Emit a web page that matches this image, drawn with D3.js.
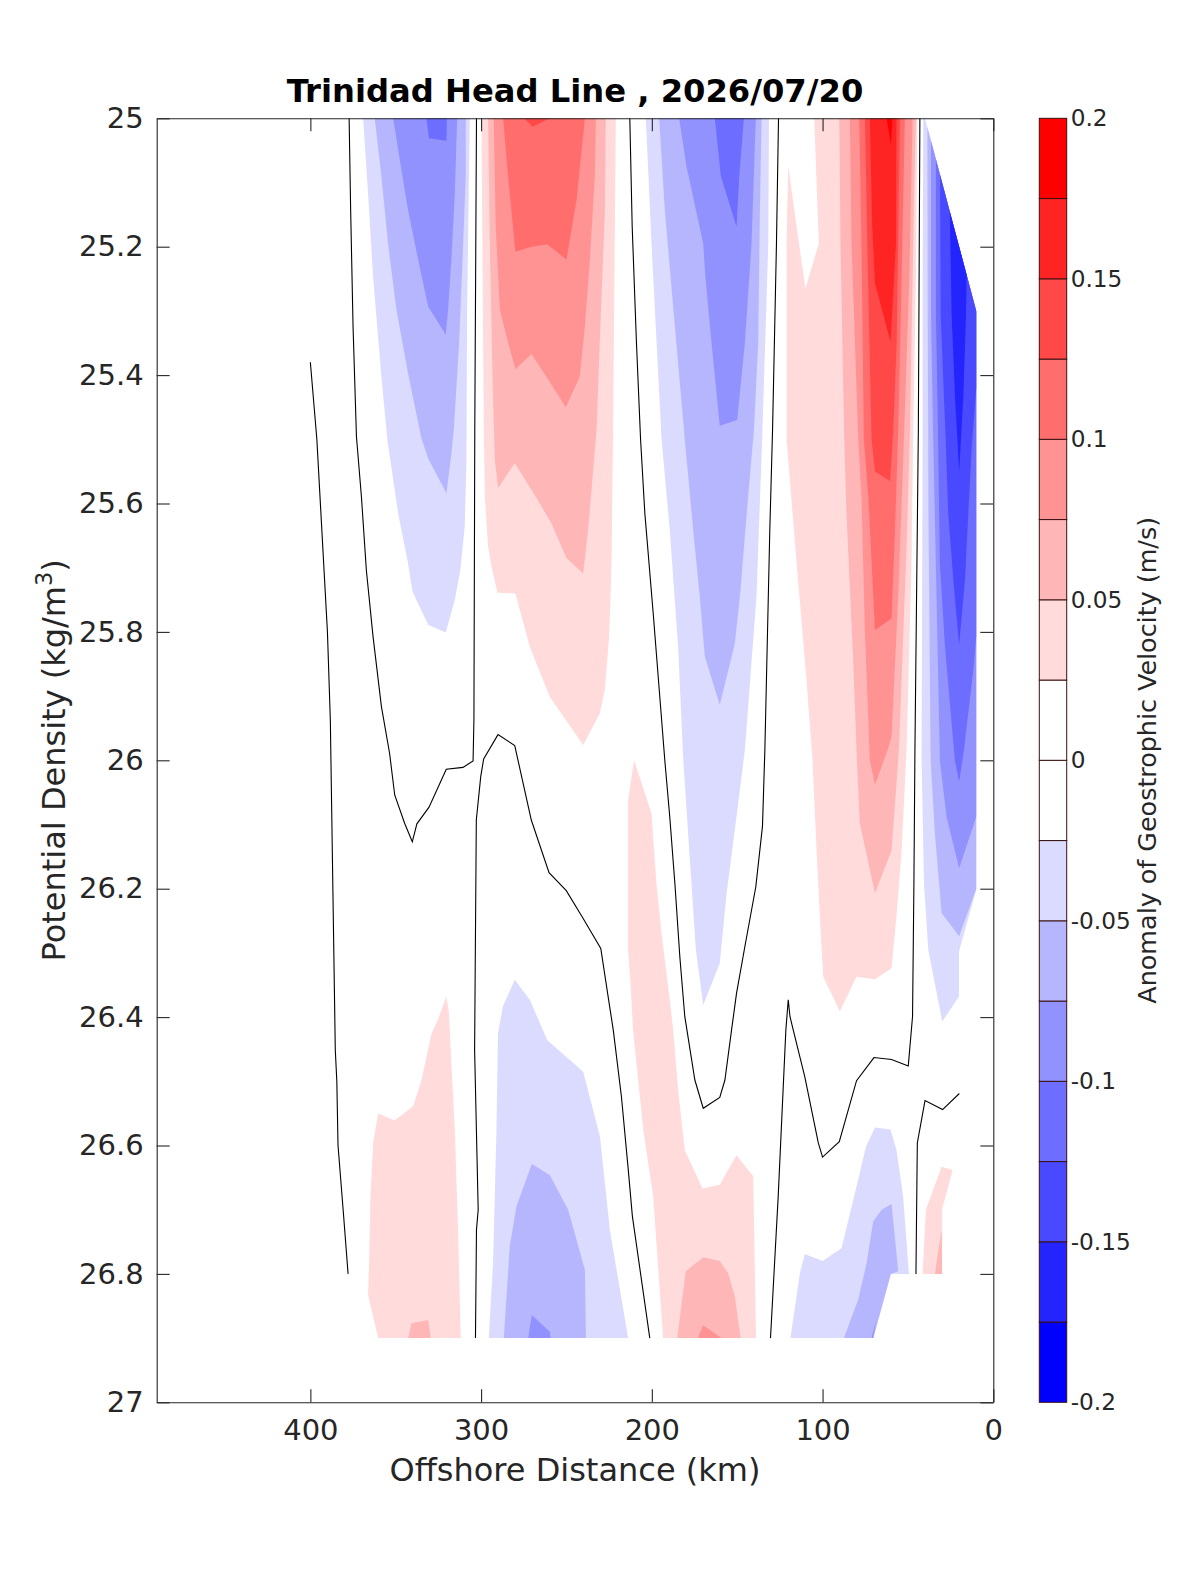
<!DOCTYPE html>
<html>
<head>
<meta charset="utf-8">
<title>Trinidad Head Line</title>
<script src="https://cdnjs.cloudflare.com/ajax/libs/d3/7.8.5/d3.min.js"></script>
<style>
  html, body { margin: 0; padding: 0; background: #fff; }
  text { font-family: "DejaVu Sans", sans-serif; fill: #262626; }
</style>
</head>
<body>
<div id="chart"></div>
<script>
// axis ticks and colour levels
const distanceTicks = [400, 300, 200, 100, 0];
const densityTicks = [25, 25.2, 25.4, 25.6, 25.8, 26, 26.2, 26.4, 26.6, 26.8, 27];
const colorTicks = [-0.2, -0.15, -0.1, -0.05, 0, 0.05, 0.1, 0.15, 0.2];
const colorLevels = [-0.2, -0.175, -0.15, -0.125, -0.1, -0.075, -0.05, -0.025, 0,
  0.025, 0.05, 0.075, 0.1, 0.125, 0.15, 0.175, 0.2];

// filled contours, as [km offshore, density]
// offshore blue lobe, 370-305 km
const blueA1 = [[369.1,25],[366.2,25.117],[363.3,25.246],[358.4,25.402],[354.9,25.501],[348.6,25.615],[342.8,25.693],[340.2,25.737],[331,25.789],[320.7,25.801],[315.4,25.75],[312.1,25.703],[309.6,25.636],[308.6,25.537],[308.2,25.3],[306.6,25]];
const blueA2 = [[362.3,25],[358.4,25.09],[354.5,25.195],[349.6,25.298],[342.8,25.397],[335,25.498],[331,25.53],[320.3,25.584],[317.4,25.522],[316,25.486],[312.9,25.35],[310.5,25.195],[309,25.09],[309,25]];
const blueA3 = [[351.5,25],[347.6,25.065],[342.8,25.143],[336.9,25.22],[331,25.293],[320.7,25.337],[319.3,25.298],[317.4,25.22],[315.4,25.117],[314,25]];
const blueA4 = [[332,25],[330.5,25.031],[320.3,25.035],[320,25]];

// red lobe, 300-220 km
const redB1 = [[299.8,25],[298.8,25.35],[298.4,25.486],[297.8,25.589],[295.9,25.667],[293.9,25.698],[290.4,25.739],[279.9,25.74],[271.5,25.823],[259.8,25.901],[240.2,25.976],[230.5,25.927],[227.5,25.89],[225,25.807],[223.6,25.693],[222.7,25.486],[221.1,25]];
const redB2 = [[295.9,25],[294.9,25.195],[293.3,25.402],[292,25.532],[290,25.576],[280.3,25.537],[265.6,25.6],[258.8,25.631],[250,25.685],[240.2,25.709],[237.3,25.641],[232.4,25.486],[230.5,25.35],[227.5,25.143],[227,25]];
const redB3 = [[292.6,25],[291.4,25.169],[289,25.298],[285.1,25.34],[279.9,25.391],[270.5,25.367],[260.7,25.407],[250.4,25.45],[242.2,25.402],[239.2,25.324],[236.3,25.22],[233.4,25.09],[232.8,25]];
const redB4 = [[287.1,25],[284.2,25.09],[279.9,25.208],[270.5,25.2],[261.3,25.196],[250,25.22],[244.1,25.127],[239.2,25]];
const redB5 = [[274.8,25],[269.9,25.013],[259.8,25]];

// blue lobe, 205-130 km
const blueC1 = [[203.5,25],[200.2,25.195],[194.3,25.5],[189.5,25.641],[184.6,25.823],[181.6,25.999],[176.8,26.192],[174.2,26.295],[169.9,26.381],[160.2,26.316],[156.2,26.207],[150.4,26.088],[145.5,25.984],[138.7,25.745],[135.2,25.486],[131.8,25.195],[131.4,25]];
const blueC2 = [[195.7,25],[192.4,25.143],[186.5,25.324],[180.7,25.5],[175.8,25.641],[171.9,25.745],[169,25.838],[160.2,25.914],[151.4,25.818],[148.4,25.745],[143.6,25.589],[140.2,25.486],[137.7,25.35],[136.7,25.143],[135.7,25]];
const blueC3 = [[184,25],[179.7,25.075],[169.9,25.195],[168.8,25.241],[166,25.324],[160.2,25.479],[150,25.47],[145.5,25.35],[141.6,25.195],[139.1,25]];
const blueC4 = [[163.1,25],[159.6,25.09],[150.4,25.169],[148.8,25.09],[146.1,25]];

// nearshore red jet, 120-45 km
const redD1 = [[104.9,25],[102.2,25.195],[110,25.265],[115.2,25.169],[120.1,25.075],[121.1,25.195],[121.1,25.5],[115.2,25.693],[109.4,25.875],[105.9,26],[103.5,26.14],[101.6,26.243],[99.6,26.337],[89.9,26.391],[80.1,26.337],[69.3,26.341],[59.6,26.324],[56.7,26.243],[53.7,26.14],[50.8,25.984],[47.9,25.693],[46.9,25.486],[45.3,25.246],[44.5,25]];
const redD2 = [[90.2,25],[89.5,25.195],[87.3,25.5],[86,25.615],[82,25.849],[79.9,26],[78.2,26.098],[69.3,26.207],[59.6,26.14],[56.7,26.036],[55.3,25.984],[50.8,25.667],[48.8,25.486],[46.9,25.195],[45.3,25]];
const redD3 = [[84,25],[83,25.195],[79.1,25.5],[77.2,25.589],[75.2,25.797],[72.3,26],[69.3,26.038],[61.9,25.984],[59.6,25.963],[55.7,25.745],[52.2,25.486],[49.2,25.246],[47.3,25]];
const redD4 = [[78.5,25],[77.2,25.195],[75.8,25.5],[73.2,25.589],[69.3,25.797],[59.6,25.779],[57.6,25.641],[55.7,25.486],[53.7,25.246],[51.8,25]];
const redD5 = [[75.2,25],[73.8,25.195],[71.3,25.5],[69.3,25.55],[60.5,25.565],[58.6,25.486],[56.6,25.35],[54.7,25]];
const redD6 = [[72.3,25],[70.9,25.169],[69.3,25.257],[60.2,25.348],[57,25.195],[56.7,25]];
const redD7 = [[62.5,25],[60,25.041],[59,25]];

// coastal blue, cut by the data edge 40-10 km
const blueE1 = [[41,25],[41.4,25.246],[41.4,25.5],[42,26],[40.6,26.192],[38.1,26.295],[29.9,26.407],[20.1,26.368],[20.1,26.298],[10,26.202],[10,25.3],[20,25.2],[30,25.1],[40,25]];
const blueE2 = [[38.6,25.014],[38.4,25.306],[38,25.613],[36.7,26],[34.2,26.114],[30.3,26.238],[20,26.274],[10,26.2],[10,25.3],[20,25.2],[30,25.1]];
const blueE3 = [[36.5,25.035],[36.5,25.306],[35.3,25.486],[31.3,26],[27.4,26.088],[20,26.168],[10,26.088],[10,25.3],[20,25.2],[30,25.1]];
const blueE4 = [[33.6,25.064],[33.6,25.306],[32.4,25.486],[31.3,25.693],[28.3,25.823],[22.5,26],[20,26.033],[17.2,25.984],[11.7,25.859],[10,25.807],[10,25.3],[20,25.2],[30,25.1]];
const blueE5 = [[31.2,25.088],[30.8,25.306],[27.9,25.5],[26.4,25.615],[23.4,25.719],[20,25.82],[16.6,25.719],[14.6,25.613],[12.7,25.514],[10,25.42],[10,25.3],[20,25.2],[30,25.1]];
const blueE6 = [[25.5,25.145],[24.4,25.306],[22.4,25.436],[20,25.55],[17.6,25.436],[16,25.306],[15.6,25.244],[20,25.2]];

// deep lobes, 26.35-26.9
const redF1 = [[320.4,26.368],[325.3,26.404],[329,26.425],[332,26.462],[334.9,26.498],[339.8,26.539],[350.6,26.561],[360.3,26.55],[363.2,26.596],[364.8,26.68],[365.6,26.783],[366.2,26.833],[360.3,26.9],[311.9,26.9],[313.5,26.731],[315.4,26.576],[317.4,26.472],[318.3,26.42],[319,26.389]];
const redF2 = [[342.7,26.9],[340.8,26.877],[331,26.872],[329.5,26.9]];
const blueG1 = [[280.3,26.342],[287.2,26.383],[290.1,26.425],[291,26.576],[292,26.68],[293,26.783],[295.5,26.9],[213.9,26.9],[224.6,26.731],[230.4,26.586],[240.2,26.485],[261.2,26.436],[271.5,26.373]];
const blueG2 = [[270.3,26.629],[279.3,26.695],[283.2,26.757],[286.7,26.9],[238.6,26.9],[239.2,26.794],[249,26.7],[259.8,26.646]];
const blueG3 = [[272.4,26.9],[270.3,26.864],[259.7,26.89],[259.3,26.9]];
const redH1 = [[210.4,26],[213.9,26.062],[213.9,26.295],[212.5,26.347],[211,26.42],[205,26.576],[199.2,26.68],[193.4,26.9],[139,26.9],[140.6,26.648],[150.4,26.615],[160.2,26.661],[170.3,26.667],[180.7,26.607],[184.6,26.513],[187.5,26.42],[189.5,26.373],[194.3,26.27],[197.3,26.192],[200.2,26.083]];
const redH2 = [[185.1,26.9],[180.1,26.796],[169.9,26.774],[160.2,26.78],[155.3,26.799],[151.4,26.835],[148,26.9]];
const redH3 = [[172.9,26.9],[170,26.88],[159.2,26.9]];
const blueJ1 = [[118.8,26.9],[113.3,26.799],[110.4,26.769],[100,26.78],[88.9,26.76],[80.1,26.664],[74.6,26.602],[69.3,26.572],[60.2,26.575],[56.7,26.607],[52.8,26.68],[49.4,26.8],[60,26.8],[70.3,26.9]];
const blueJ2 = [[87.5,26.9],[79.1,26.84],[74.2,26.783],[70.3,26.718],[65.4,26.7],[59.6,26.691],[55.7,26.796],[60,26.8],[70.3,26.9]];
const blueJ3 = [[71.3,26.9],[68.5,26.87],[70.3,26.9]];
const redK1 = [[41.4,26.8],[39.5,26.7],[30.3,26.633],[23.8,26.638],[29.9,26.698],[30,26.8]];
const redK2 = [[34.2,26.8],[30.3,26.731],[30,26.8]];

// zero contour pieces
const zeroLine1 = [[377.3,25],[376.4,25.143],[375,25.324],[373,25.496],[370.1,25.589],[367.2,25.704],[363.3,25.807],[358.4,25.916],[353.6,25.989],[350.6,26.054],[344.8,26.098],[340.3,26.127],[337.6,26.099],[330.5,26.073],[320.4,26.014],[310.6,26.011],[304.7,26.001],[304.2,25.937],[303.7,25.486],[302.7,25]];
const zeroLine2 = [[400,25.38],[396.2,25.5],[390,25.8],[388.3,25.937],[385.4,26.451],[384.5,26.5],[383.8,26.6],[380.8,26.7],[377.9,26.8]];
const zeroLine3 = [[303.3,26.9],[302.7,26.731],[301.7,26.7],[303.8,26.451],[302.8,26.093],[300.2,26.025],[298.5,25.998],[290.1,25.96],[280.3,25.977],[270.6,26.093],[260.2,26.175],[250.1,26.203],[240.3,26.246],[229.9,26.293],[225.6,26.368],[222.6,26.42],[217.8,26.524],[213.8,26.638],[211.4,26.71],[201.2,26.9]];
const zeroLine4 = [[212.9,25],[211.5,25.169],[209,25.35],[206.6,25.5],[204.1,25.615],[199.2,25.771],[192.4,26],[189.5,26.088],[186.5,26.192],[183.6,26.306],[180.7,26.399],[174.8,26.498],[169.9,26.542],[160.2,26.525],[157.2,26.498],[153.3,26.42],[150.4,26.363],[145.5,26.29],[139.1,26.197],[135.2,26.103],[133.8,25.984],[130.9,25.641],[129.3,25.486],[127,25.195],[125.8,25]];
const zeroLine5 = [[130.5,26.9],[126,26.68],[121.5,26.42],[120.1,26.373],[119.1,26.399],[117.2,26.42],[110.4,26.493],[102.5,26.596],[100,26.618],[90.2,26.594],[80.1,26.499],[69.9,26.463],[59.6,26.466],[49.8,26.476],[47.3,26.399],[46.5,26.192],[45.9,25.984],[43.9,25.486],[43,25]];
const zeroLine6 = [[45.3,26.8],[44.5,26.596],[40,26.53],[29.7,26.544],[19.9,26.519]];

// band value -> polygons, drawn weakest first
const bandValues = [0.0375, -0.0375, 0.0625, -0.0625, 0.0875, -0.0875, 0.1125, -0.1125, 0.1375, -0.1375, 0.1625, -0.1625, 0.1875];
const bandPolygons = [
  [redB1, redD1, redF1, redH1, redK1],
  [blueA1, blueC1, blueE1, blueG1, blueJ1],
  [redB2, redD2, redF2, redH2, redK2],
  [blueA2, blueC2, blueE2, blueG2, blueJ2],
  [redB3, redD3, redH3],
  [blueA3, blueC3, blueE3, blueG3, blueJ3],
  [redB4, redD4],
  [blueA4, blueC4, blueE4],
  [redB5, redD5],
  [blueE5],
  [redD6],
  [blueE6],
  [redD7]
];
const zeroLines = [zeroLine1, zeroLine2, zeroLine3, zeroLine4, zeroLine5, zeroLine6];

const width = 1200;
const height = 1575;
const margin = { top: 118.3, right: 206.7, bottom: 172.7, left: 156.7 };
const plotW = width - margin.left - margin.right;
const plotH = height - margin.top - margin.bottom;
const axisColor = "#262626";

const svg = d3.select("#chart").append("svg")
  .attr("width", width)
  .attr("height", height);

const x = d3.scaleLinear().domain([490, 0]).range([0, plotW]);
const y = d3.scaleLinear().domain([25, 27]).range([0, plotH]);

// blue-white-red in sevenths, white across the two middle bands
const blues = d3.range(7).map(i => d3.rgb(Math.round(255 * i / 7), Math.round(255 * i / 7), 255));
const reds = blues.map(c => d3.rgb(255, c.r, c.r)).reverse();
const color = d3.scaleThreshold()
  .domain(colorLevels.slice(1, -1))
  .range([...blues, "#ffffff", "#ffffff", ...reds]);

const g = svg.append("g")
  .attr("transform", "translate(" + margin.left + "," + margin.top + ")");

const line = d3.line().x(d => x(d[0])).y(d => y(d[1]));

bandValues.forEach((value, i) => {
  g.append("g")
    .selectAll("path")
    .data(bandPolygons[i])
    .enter()
    .append("path")
    .attr("d", d => line(d) + "Z")
    .attr("fill", color(value));
});

g.append("g")
  .selectAll("path")
  .data(zeroLines)
  .enter()
  .append("path")
  .attr("d", line)
  .attr("fill", "none")
  .attr("stroke", "#000")
  .attr("stroke-width", 1.1);

// box with inward ticks on all four sides
function styleAxis(sel, fontSize) {
  sel.selectAll(".domain").attr("stroke", axisColor).attr("stroke-width", 1.1);
  sel.selectAll(".tick line").attr("stroke", axisColor).attr("stroke-width", 1.1);
  sel.selectAll(".tick text").style("font-size", fontSize + "px").attr("fill", axisColor);
}
const tickLen = 13;
const tickFont = 29;

g.append("g")
  .attr("transform", "translate(0," + plotH + ")")
  .call(d3.axisBottom(x).tickValues(distanceTicks).tickSizeInner(-tickLen).tickSizeOuter(0).tickPadding(17).tickFormat(d => d))
  .call(styleAxis, tickFont);
g.append("g")
  .call(d3.axisTop(x).tickValues(distanceTicks).tickSizeInner(-tickLen).tickSizeOuter(0).tickFormat(""))
  .call(styleAxis, tickFont);
g.append("g")
  .call(d3.axisLeft(y).tickValues(densityTicks).tickSizeInner(-tickLen).tickSizeOuter(0).tickPadding(13).tickFormat(d => d))
  .call(styleAxis, tickFont);
g.append("g")
  .attr("transform", "translate(" + plotW + ",0)")
  .call(d3.axisRight(y).tickValues(densityTicks).tickSizeInner(-tickLen).tickSizeOuter(0).tickFormat(""))
  .call(styleAxis, tickFont);

// labels
svg.append("text")
  .attr("x", margin.left + plotW / 2)
  .attr("y", 102)
  .attr("text-anchor", "middle")
  .style("font-size", "32.2px")
  .style("font-weight", "bold")
  .style("fill", "#000")
  .text("Trinidad Head Line , 2026/07/20");

svg.append("text")
  .attr("x", margin.left + plotW / 2)
  .attr("y", 1481)
  .attr("text-anchor", "middle")
  .style("font-size", "32px")
  .text("Offshore Distance (km)");

const yLabel = svg.append("text")
  .attr("transform", "translate(65," + (margin.top + plotH / 2) + ") rotate(-90)")
  .attr("text-anchor", "middle")
  .style("font-size", "32px");
yLabel.append("tspan").text("Potential Density (kg/m");
yLabel.append("tspan").attr("dy", -13).style("font-size", "22.5px").text("3");
yLabel.append("tspan").attr("dy", 13).text(")");

// colour bar
const barLeft = 1039.3;
const barW = 27.4;
const cb = svg.append("g")
  .attr("transform", "translate(" + barLeft + "," + margin.top + ")");
const cy = d3.scaleLinear().domain([-0.2, 0.2]).range([plotH, 0]);

cb.selectAll("rect")
  .data(d3.pairs(colorLevels))
  .enter()
  .append("rect")
  .attr("x", 0)
  .attr("width", barW)
  .attr("y", d => cy(d[1]))
  .attr("height", d => cy(d[0]) - cy(d[1]))
  .attr("fill", d => color((d[0] + d[1]) / 2))
  .attr("stroke", "#3a1010")
  .attr("stroke-width", 1);

cb.append("g")
  .attr("transform", "translate(" + barW + ",0)")
  .call(d3.axisRight(cy).tickValues(colorTicks).tickSize(0).tickPadding(4).tickFormat(d => d))
  .call(styleAxis, 23.2)
  .call(a => a.select(".domain").remove());

svg.append("text")
  .attr("transform", "translate(1156," + (margin.top + plotH / 2) + ") rotate(-90)")
  .attr("text-anchor", "middle")
  .style("font-size", "25.4px")
  .text("Anomaly of Geostrophic Velocity (m/s)");
</script>
</body>
</html>
